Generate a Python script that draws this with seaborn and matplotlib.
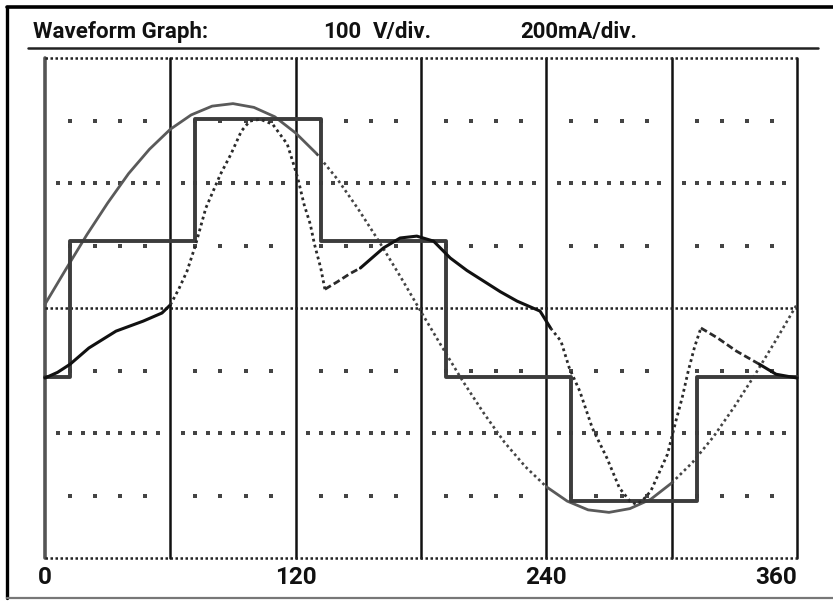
import matplotlib
matplotlib.use("Agg")
import matplotlib.pyplot as plt
from matplotlib.lines import Line2D
import seaborn as sns
import pandas as pd

# ---------------- data ----------------
sine_deg = list(range(0, 361, 10))
sine_val = [0.06, 0.62, 1.17, 1.68, 2.15, 2.54, 2.86, 3.09, 3.23, 3.27,
            3.21, 3.06, 2.80, 2.47, 2.06, 1.58, 1.06, 0.51, -0.06, -0.62,
            -1.17, -1.68, -2.15, -2.54, -2.86, -3.09, -3.23, -3.27, -3.21, -3.06,
            -2.80, -2.47, -2.06, -1.58, -1.06, -0.51, 0.06]
# (start, end, style) of the sine trace as the scope drew it
sine_segments = [(0, 60, "solid"), (60, 130, "solid"), (130, 240, "dotted"),
                 (240, 300, "solid"), (300, 360, "dotted")]

step_edges = [0, 12, 72, 132, 192, 252, 312, 360]
step_levels = [-1.1, 1.07, 3.02, 1.07, -1.1, -3.08, -1.1]

current_deg = [0, 6, 12, 21, 34, 47, 56, 60, 64, 68, 72, 77, 84, 89, 94, 98, 103,
               109, 116, 119, 121, 124, 127, 129, 132, 134, 140, 146, 151, 162,
               170, 178, 186, 194, 202, 210, 218, 226, 237, 242, 247, 251, 256,
               262, 269, 275, 280, 283, 286, 290, 298, 302, 305, 308, 311, 314,
               322, 331, 342, 350, 360]
current_val = [-1.12, -1.03, -0.9, -0.64, -0.37, -0.21, -0.08, 0.05, 0.3, 0.59,
               1.0, 1.6, 2.14, 2.46, 2.83, 2.99, 3.02, 2.94, 2.62, 2.30, 2.08,
               1.66, 1.34, 1.02, 0.64, 0.3, 0.42, 0.55, 0.64, 0.96, 1.12, 1.15,
               1.07, 0.8, 0.6, 0.43, 0.26, 0.11, -0.05, -0.32, -0.53, -0.96,
               -1.33, -1.92, -2.4, -2.88, -3.09, -3.14, -3.08, -2.93, -2.34,
               -1.81, -1.44, -1.0, -0.62, -0.32, -0.48, -0.69, -0.9, -1.06, -1.12]
current_segments = [(0, 60, "solid"), (60, 134, "dotted"), (134, 151, "dashed"),
                    (151, 242, "solid"), (242, 314, "dotted"), (314, 342, "dashed"),
                    (342, 360, "solid")]

x_ticks = [0, 120, 240, 360]
x_tick_labels = ["0", "120", "240", "360"]
header_texts = ["Waveform Graph:", "100", "V/div.", "200mA/div."]
header_px = [33, 323, 373, 520]

# ---------------- style ----------------
sns.set_style("white")
plt.rcParams["font.family"] = ["Roboto", "DejaVu Sans"]

W, H = 833, 603
fig = plt.figure(figsize=(W / 100, H / 100), dpi=100)
fig.patch.set_facecolor("white")

# outer frame and header rule (figure pixels)
def fline(x0, y0, x1, y1, **kw):
    fig.add_artist(Line2D([x0 / W, x1 / W], [1 - y0 / H, 1 - y1 / H],
                          transform=fig.transFigure, **kw))

fline(7, 7, 833, 7, color="black", lw=2.6)
fline(7, 7, 7, 598, color="black", lw=2.4)
fline(7, 598, 833, 598, color="#777777", lw=1.6)
fline(28, 48, 818, 48, color="#222222", lw=1.8)

for t, px in zip(header_texts, header_px):
    fig.text(px / W, 1 - 38 / H, t, fontsize=16, fontweight="bold",
             ha="left", va="baseline", color="#111111")

ax = fig.add_axes([45 / W, 45 / H, 752 / W, 500 / H])
ax.set_xlim(0, 360)
ax.set_ylim(-4, 4)
for s in ax.spines.values():
    s.set_visible(False)
ax.set_yticks([])
ax.set_xticks(x_ticks)
ax.set_xticklabels(x_tick_labels, fontsize=17.5, fontweight="bold")
ax.tick_params(axis="x", length=0, pad=6, colors="#111111")
labels = ax.get_xticklabels()
labels[-1].set_ha("right")

# graticule
for gx in range(0, 361, 60):
    ax.axvline(gx, color="#555555" if gx == 0 else "#111111",
               lw=2.6 if gx == 0 else 1.8, clip_on=False, zorder=1)
for gy in (-4, 0, 4):
    ax.axhline(gy, color="#222222", lw=1.8, ls=(0, (1, 1)), clip_on=False, zorder=1)
dot_rows = []
for gy in (-3, -1, 1, 3):
    dot_rows += [(d, gy) for d in range(12, 360, 12) if d % 60]
for gy in (-2, 2):
    dot_rows += [(d, gy) for d in range(6, 360, 6) if d % 60]
ax.scatter([p[0] for p in dot_rows], [p[1] for p in dot_rows], s=5,
           marker="s", color="#444444", linewidths=0, zorder=1)

ls_map = {"solid": "-", "dotted": (0, (1, 1.2)), "dashed": (0, (2.5, 1.2))}

sine_df = pd.DataFrame({"deg": sine_deg, "val": sine_val})
for a, b, st in sine_segments:
    seg = sine_df[(sine_df.deg >= a) & (sine_df.deg <= b)]
    sns.lineplot(data=seg, x="deg", y="val", ax=ax, estimator=None, sort=False,
                 color="#5a5a5a" if st == "solid" else "#444444",
                 lw=2.0 if st == "solid" else 1.9,
                 linestyle=ls_map[st], zorder=2, clip_on=False)

step_df = pd.DataFrame({"deg": step_edges, "val": step_levels + [step_levels[-1]]})
sns.lineplot(data=step_df, x="deg", y="val", ax=ax, estimator=None, sort=False,
             drawstyle="steps-post", color="#3c3c3c", lw=2.8, zorder=3, clip_on=False)

cur_df = pd.DataFrame({"deg": current_deg, "val": current_val})
for a, b, st in current_segments:
    seg = cur_df[(cur_df.deg >= a) & (cur_df.deg <= b)]
    sns.lineplot(data=seg, x="deg", y="val", ax=ax, estimator=None, sort=False,
                 color="#111111" if st == "solid" else "#2a2a2a",
                 lw=2.2 if st == "solid" else 2.0,
                 linestyle=ls_map[st], zorder=4, clip_on=False)

ax.set_xlabel("")
ax.set_ylabel("")
fig.savefig("out.png", dpi=100, facecolor="white")
